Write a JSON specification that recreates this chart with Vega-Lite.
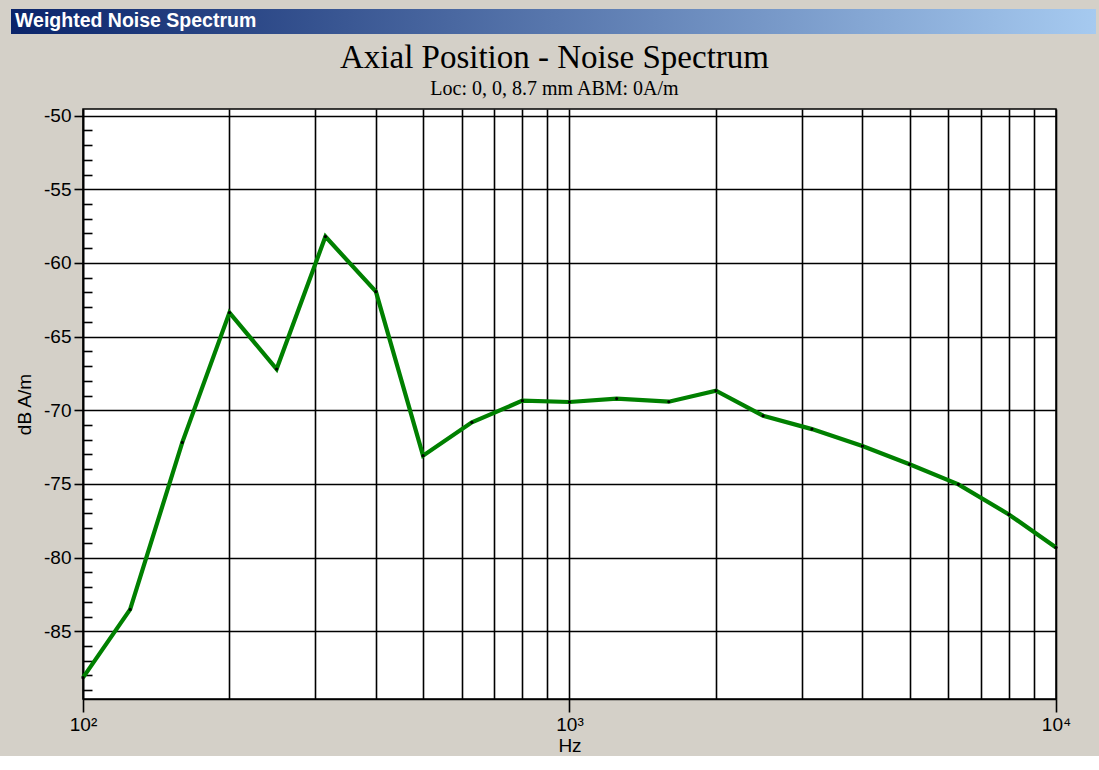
{
  "$schema": "https://vega.github.io/schema/vega-lite/v6.json",
  "background": "#d4d0c8",
  "padding": {"left": 11, "top": 9, "right": 3, "bottom": 0},
  "spacing": 6,
  "config": {
    "view": {"fill": "#ffffff", "stroke": "#000000", "strokeWidth": 1.5},
    "axis": {"labelFont": "Liberation Sans", "titleFont": "Liberation Sans", "labelColor": "#000000", "titleColor": "#000000"}
  },
  "vconcat": [
    {
      "width": 1085,
      "height": 25,
      "view": {"stroke": null, "fill": null},
      "data": {"values": [{"bar": "Weighted Noise Spectrum"}]},
      "title": {
        "text": "Weighted Noise Spectrum",
        "anchor": "start",
        "frame": "group",
        "orient": "top",
        "offset": -22,
        "dx": 4,
        "color": "#ffffff",
        "font": "Liberation Sans",
        "fontSize": 19.5,
        "fontWeight": "bold"
      },
      "mark": {
        "type": "rect",
        "color": {
          "gradient": "linear",
          "x1": 0, "y1": 0, "x2": 1, "y2": 0,
          "stops": [
            {"offset": 0, "color": "#0a246a"},
            {"offset": 1, "color": "#a6caf0"}
          ]
        }
      },
      "encoding": {}
    },
    {
      "bounds": "flush",
      "spacing": 0,
      "hconcat": [
        {
          "width": 72,
          "height": 590,
          "view": {"stroke": null, "fill": null},
          "data": {"values": []},
          "mark": "point",
          "encoding": {}
        },
        {
          "width": 973,
          "height": 590,
          "title": {
            "text": "Axial Position - Noise Spectrum",
            "subtitle": "Loc: 0, 0, 8.7 mm ABM: 0A/m",
            "font": "Liberation Serif",
            "fontSize": 33,
            "fontWeight": "normal",
            "color": "#000000",
            "subtitleFont": "Liberation Serif",
            "subtitleFontSize": 20,
            "subtitleColor": "#000000",
            "subtitlePadding": 4,
            "anchor": "middle",
            "frame": "group",
            "dx": -15,
            "offset": 8
          },
          "data": {
            "values": [
              {"hz": 100, "db": -88.15},
              {"hz": 125, "db": -83.52},
              {"hz": 160, "db": -72.18},
              {"hz": 200, "db": -63.37},
              {"hz": 250, "db": -67.2},
              {"hz": 315, "db": -58.21},
              {"hz": 400, "db": -61.95},
              {"hz": 500, "db": -73.08},
              {"hz": 630, "db": -70.82},
              {"hz": 800, "db": -69.35},
              {"hz": 1000, "db": -69.44},
              {"hz": 1250, "db": -69.21},
              {"hz": 1600, "db": -69.42},
              {"hz": 2000, "db": -68.67},
              {"hz": 2500, "db": -70.37},
              {"hz": 3150, "db": -71.28},
              {"hz": 4000, "db": -72.43},
              {"hz": 5000, "db": -73.67},
              {"hz": 6300, "db": -75.03},
              {"hz": 8000, "db": -77.07},
              {"hz": 10000, "db": -79.31}
            ]
          },
          "encoding": {
            "x": {
              "field": "hz",
              "type": "quantitative",
              "scale": {"type": "log", "domain": [100, 10000], "nice": false},
              "axis": {
                "values": [100, 200, 300, 400, 500, 600, 700, 800, 900, 1000, 2000, 3000, 4000, 5000, 6000, 7000, 8000, 9000, 10000],
                "grid": true,
                "gridColor": "#000000",
                "gridWidth": 1.6,
                "gridOpacity": 1,
                "domainColor": "#000000",
                "domainWidth": 1.6,
                "tickColor": "#000000",
                "tickWidth": 1.6,
                "tickSize": 13,
                "tickOpacity": {"condition": {"test": "datum.value == 100 || datum.value == 1000 || datum.value == 10000", "value": 1}, "value": 0},
                "labelExpr": "datum.value == 100 ? '10²' : datum.value == 1000 ? '10³' : datum.value == 10000 ? '10⁴' : ''",
                "labelOverlap": false,
                "labelFlush": false,
                "labelFontSize": 19,
                "labelPadding": 3,
                "title": "Hz",
                "titleFontSize": 19,
                "titleFontWeight": "normal",
                "titlePadding": 2
              }
            }
          },
          "layer": [
            {
              "mark": {"type": "line", "color": "#008000", "strokeWidth": 4.2},
              "encoding": {
                "y": {
                  "field": "db",
                  "type": "quantitative",
                  "scale": {"domain": [-89.6, -49.55], "nice": false, "zero": false},
                  "axis": {
                    "orient": "left",
                    "values": [-85, -80, -75, -70, -65, -60, -55, -50],
                    "grid": true,
                    "gridColor": "#000000",
                    "gridWidth": 1.6,
                    "gridOpacity": 1,
                    "domainColor": "#000000",
                    "domainWidth": 1.6,
                    "tickColor": "#000000",
                    "tickWidth": 1.6,
                    "tickSize": 9,
                    "labelExpr": "'' + datum.value",
                    "labelFontSize": 19,
                    "labelPadding": 3,
                    "labelFlush": false,
                    "title": "dB A/m",
                    "titleFontSize": 19,
                    "titleFontWeight": "normal",
                    "titlePadding": 9
                  }
                }
              }
            },
            {
              "mark": {"type": "point", "filled": true, "color": "#000000", "size": 10, "opacity": 1},
              "encoding": {
                "y": {
                  "field": "db",
                  "type": "quantitative",
                  "axis": {
                    "orient": "left",
                    "values": [-89, -88, -87, -86, -84, -83, -82, -81, -79, -78, -77, -76, -74, -73, -72, -71, -69, -68, -67, -66, -64, -63, -62, -61, -59, -58, -57, -56, -54, -53, -52, -51],
                    "grid": false,
                    "labels": false,
                    "domain": false,
                    "ticks": true,
                    "tickSize": -9,
                    "tickColor": "#000000",
                    "tickWidth": 1.6,
                    "title": null
                  }
                }
              }
            }
          ],
          "resolve": {"axis": {"y": "independent"}}
        }
      ]
    }
  ]
}
